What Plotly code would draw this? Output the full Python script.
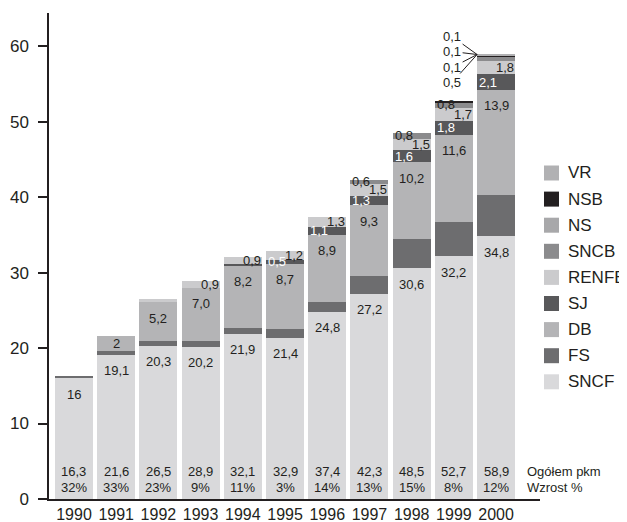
import plotly.graph_objects as go

years = ['1990', '1991', '1992', '1993', '1994', '1995', '1996', '1997', '1998', '1999', '2000']

SNCF = [16, 19.1, 20.3, 20.2, 21.9, 21.4, 24.8, 27.2, 30.6, 32.2, 34.8]
FS = [0.3, 0.5, 0.6, 0.8, 0.8, 1.1, 1.3, 2.4, 3.8, 4.5, 5.5]
DB = [0, 2, 5.2, 7.0, 8.2, 8.7, 8.9, 9.3, 10.2, 11.6, 13.9]
SJ = [0, 0, 0, 0, 0.3, 0.5, 1.1, 1.3, 1.6, 1.8, 2.1]
RENFE = [0, 0, 0.4, 0.9, 0.9, 1.2, 1.3, 1.5, 1.5, 1.7, 1.8]
SNCB = [0, 0, 0, 0, 0, 0, 0, 0.6, 0.8, 0.8, 0.5]
NS = [0, 0, 0, 0, 0, 0, 0, 0, 0, 0, 0.1]
NSB = [0, 0, 0, 0, 0, 0, 0, 0, 0, 0.1, 0.1]
VR = [0, 0, 0, 0, 0, 0, 0, 0, 0, 0, 0.1]

totals = [16.3, 21.6, 26.5, 28.9, 32.1, 32.9, 37.4, 42.3, 48.5, 52.7, 58.9]
growth = ['32%', '33%', '23%', '9%', '11%', '3%', '14%', '13%', '15%', '8%', '12%']

series_names = ['SNCF', 'FS', 'DB', 'SJ', 'RENFE', 'SNCB', 'NS', 'NSB', 'VR']
series_vals = [SNCF, FS, DB, SJ, RENFE, SNCB, NS, NSB, VR]
colors = {'SNCF': '#d9d9db', 'FS': '#6d6d6f', 'DB': '#b4b4b6', 'SJ': '#58585a',
          'RENFE': '#cbcbcd', 'SNCB': '#8b8b8d', 'NS': '#a8a8aa', 'NSB': '#231f20',
          'VR': '#b1b1b3'}

axis_label_text = ['Ogółem pkm', 'Wzrost %']
int_labels = {('SNCF', '1990'), ('DB', '1991')}

FONT = 'Liberation Sans, Arial, Helvetica, sans-serif'
TXT = '#231f20'

# layout geometry (px); page body has an 8px margin
OFF = 8
W, H = 627 - OFF, 522 - OFF
ML, MR, MT, MB = 49 - OFF, 87, 13 - OFF, 23
x_range = [-0.592, 11.04]
y_range = [0, 64.4]
pw = W - ML - MR
ph = H - MT - MB
ppu = ph / (y_range[1] - y_range[0])
cat_px = pw / (x_range[1] - x_range[0])
half_bar = 0.45 * cat_px


def px_x(X):
    return (X - OFF - ML) / pw


def px_y(Y):
    return (H - MB - (Y - OFF)) / ph


def fmt(name, yr, v):
    if (name, yr) in int_labels:
        return f"{v:.0f}"
    return f"{v:.1f}".replace('.', ',')


def lab(x, y, text, color=TXT, size=13, **kw):
    d = dict(x=x, y=y, xref='x', yref='y', text=text, showarrow=False,
             font=dict(size=size, color=color, family=FONT))
    d.update(kw)
    return d


fig = go.Figure()
for name, vals in zip(series_names, series_vals):
    fig.add_trace(go.Bar(
        x=years, y=vals, name=name, width=0.9,
        marker=dict(color=colors[name], line=dict(width=0)),
        showlegend=False, hoverinfo='skip'))

annotations = []
cum = [0.0] * len(years)
bottoms = {}
for name, vals in zip(series_names, series_vals):
    bottoms[name] = list(cum)
    cum = [c + v for c, v in zip(cum, vals)]

for i, yr in enumerate(years):
    v = SNCF[i]
    top = bottoms['SNCF'][i] + v
    annotations.append(lab(i, top - min(16 / ppu, v / 2), fmt('SNCF', yr, v)))
    v = DB[i]
    if v > 0:
        top = bottoms['DB'][i] + v
        annotations.append(lab(i, top - min(16 / ppu, v / 2), fmt('DB', yr, v)))
    v = SJ[i]
    if v >= 0.5:
        annotations.append(lab(i, bottoms['SJ'][i] + v / 2, fmt('SJ', yr, v), color='white',
                               xanchor='left', xshift=-half_bar))
    v = RENFE[i]
    if v >= 0.9:
        annotations.append(lab(i, bottoms['RENFE'][i] + v / 2, fmt('RENFE', yr, v),
                               xanchor='right', xshift=half_bar + 1))
    v = SNCB[i]
    if v > 0 and i != len(years) - 1:
        annotations.append(lab(i, bottoms['SNCB'][i] + v / 2, fmt('SNCB', yr, v),
                               xanchor='left', xshift=-half_bar, yshift=1))
    annotations.append(lab(i, 3.6, f"{totals[i]:.1f}".replace('.', ',')))
    annotations.append(lab(i, 1.5, growth[i]))

last = len(years) - 1
lead = [(VR[last], -18), (NSB[last], -3), (NS[last], 13), (SNCB[last], 28)]
for v, ay in lead:
    annotations.append(dict(x=last, y=totals[last], xref='x', yref='y', xshift=-half_bar,
                            text=f"{v:.1f}".replace('.', ','), showarrow=True,
                            arrowhead=0, arrowwidth=1, arrowcolor=TXT, standoff=0,
                            ax=-25, ay=ay, font=dict(size=13, color=TXT, family=FONT)))

annotations.append(lab(last, 3.6, axis_label_text[0], xanchor='left', xshift=29))
annotations.append(lab(last, 1.5, axis_label_text[1], xanchor='left', xshift=29))

shapes = []
leg_order = list(reversed(series_names))
for k, name in enumerate(leg_order):
    cy = 173 + k * 26.1
    shapes.append(dict(type='rect', xref='paper', yref='paper',
                       x0=px_x(544), x1=px_x(559), y0=px_y(cy + 7.5), y1=px_y(cy - 7.5),
                       fillcolor=colors[name], line=dict(width=0)))
    annotations.append(dict(xref='paper', yref='paper', x=px_x(566), y=px_y(cy), text=name,
                            xanchor='left', yanchor='middle', showarrow=False,
                            font=dict(size=17, color=TXT, family=FONT)))

fig.update_layout(
    width=W, height=H,
    margin=dict(l=ML, r=MR, t=MT, b=MB, autoexpand=False),
    barmode='stack', bargap=0.1,
    plot_bgcolor='white', paper_bgcolor='white',
    font=dict(family=FONT, color=TXT),
    annotations=annotations, shapes=shapes,
    xaxis=dict(type='category', range=x_range, showline=True, linecolor=TXT, linewidth=1.5,
               ticks='', showgrid=False, zeroline=False,
               tickfont=dict(size=16, color=TXT, family=FONT)),
    yaxis=dict(range=y_range, showline=True, linecolor=TXT, linewidth=1.5,
               ticks='outside', ticklen=9, tickwidth=1.5, tickcolor=TXT,
               tickvals=[0, 10, 20, 30, 40, 50, 60], showgrid=False, zeroline=False,
               ticklabelstandoff=6,
               tickfont=dict(size=17, color=TXT, family=FONT)),
)

fig.write_html("out.html")
